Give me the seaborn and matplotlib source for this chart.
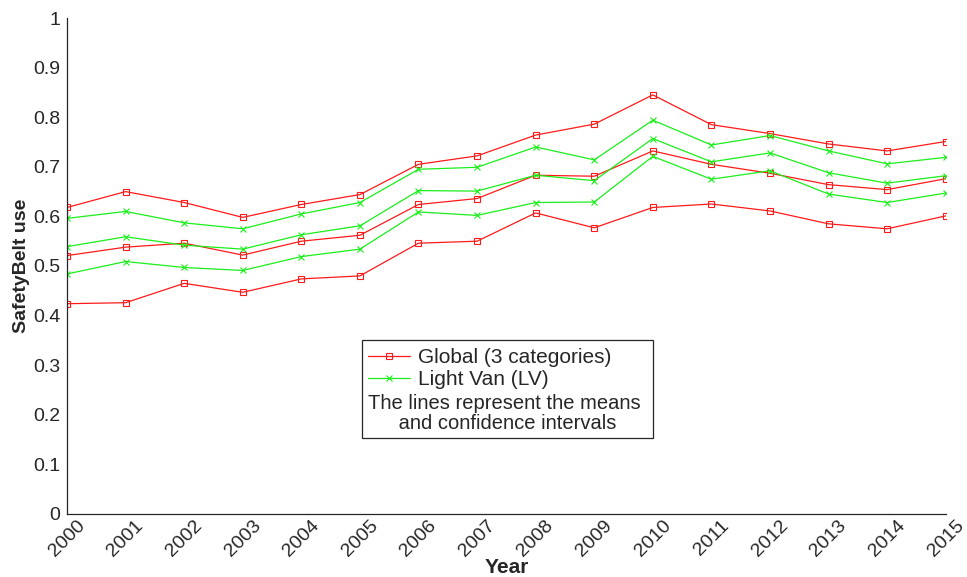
import numpy as np
import pandas as pd
import matplotlib
matplotlib.use("Agg")
import matplotlib.pyplot as plt
from matplotlib.lines import Line2D
from matplotlib.patches import Rectangle
import seaborn as sns

years = list(range(2000, 2016))

# Global (3 categories): mean and confidence interval
global_upper = [0.618, 0.650, 0.628, 0.598, 0.624, 0.644, 0.705, 0.722, 0.764, 0.786,
                0.845, 0.785, 0.767, 0.746, 0.732, 0.751]
global_mean = [0.521, 0.538, 0.546, 0.522, 0.550, 0.562, 0.624, 0.636, 0.683, 0.681,
               0.732, 0.705, 0.687, 0.664, 0.654, 0.676]
global_lower = [0.424, 0.426, 0.465, 0.447, 0.474, 0.480, 0.546, 0.550, 0.607, 0.577,
                0.618, 0.625, 0.611, 0.585, 0.575, 0.601]

# Light Van (LV): mean and confidence interval
lv_upper = [0.596, 0.610, 0.587, 0.575, 0.605, 0.628, 0.695, 0.699, 0.740, 0.714,
            0.794, 0.744, 0.763, 0.732, 0.706, 0.719]
lv_mean = [0.539, 0.559, 0.542, 0.534, 0.563, 0.581, 0.652, 0.651, 0.683, 0.672,
           0.757, 0.710, 0.728, 0.688, 0.667, 0.682]
lv_lower = [0.484, 0.509, 0.497, 0.491, 0.519, 0.534, 0.609, 0.602, 0.628, 0.629,
            0.721, 0.675, 0.692, 0.645, 0.628, 0.647]

sns.set_style("white")
plt.rcParams['font.family'] = ['Liberation Sans', 'DejaVu Sans']

red = '#ff1a1a'
green = '#1aef1a'

fig = plt.figure(figsize=(9.67, 5.77), dpi=100)
ax = fig.add_axes([0.0693, 0.1092, 0.9087, 0.8596])

for serie in [global_upper, global_mean, global_lower]:
    sns.lineplot(x=years, y=serie, ax=ax, color=red, lw=0.9, marker='s',
                 markersize=4.5, markerfacecolor='none', markeredgecolor=red,
                 markeredgewidth=0.8)
for serie in [lv_upper, lv_mean, lv_lower]:
    sns.lineplot(x=years, y=serie, ax=ax, color=green, lw=0.9, marker='x',
                 markersize=4.5, markeredgecolor=green, markeredgewidth=0.8)

ax.set_xlim(2000, 2015)
ax.set_ylim(0, 1)
ax.set_xticks(years)
ax.set_xticklabels([str(y) for y in years], rotation=45, ha='center', va='top')
ax.set_yticks(np.arange(0, 1.01, 0.1))
ax.set_yticklabels(['0', '0.1', '0.2', '0.3', '0.4', '0.5', '0.6', '0.7', '0.8', '0.9', '1'])
ax.tick_params(axis='both', direction='in', length=5, width=0.8, colors='#262626',
               labelsize=14, labelcolor='#262626')
ax.tick_params(axis='y', pad=5)
ax.tick_params(axis='x', pad=2)
ax.set_xlabel('Year', fontsize=15, fontweight='bold', labelpad=-1)
ax.set_ylabel('SafetyBelt use', fontsize=14, fontweight='bold', labelpad=2)

for s in ['top', 'right']:
    ax.spines[s].set_visible(False)
for s in ['left', 'bottom']:
    ax.spines[s].set_color('#262626')
    ax.spines[s].set_linewidth(0.9)

# legend box with explanatory text
box_x0, box_x1 = 0.3356, 0.6667
box_y0, box_y1 = 0.1532, 0.3508
ax.add_patch(Rectangle((box_x0, box_y0), box_x1 - box_x0, box_y1 - box_y0,
                       transform=ax.transAxes, facecolor='white',
                       edgecolor='#262626', lw=0.9, zorder=5))
handles = [
    Line2D([], [], color=red, lw=0.9, marker='s', markersize=4.5,
           markerfacecolor='none', markeredgewidth=0.8),
    Line2D([], [], color=green, lw=0.9, marker='x', markersize=4.5,
           markeredgewidth=0.8),
]
leg = ax.legend(handles, ['Global (3 categories)', 'Light Van (LV)'],
                loc='upper left', bbox_to_anchor=(box_x0, box_y1 - 0.004),
                frameon=False, fontsize=15, handlelength=2.0, handletextpad=0.4,
                borderaxespad=0, borderpad=0.3, labelspacing=0.15)
leg.set_zorder(6)
for t in leg.get_texts():
    t.set_color('#262626')
ax.text(0.498, 0.203, 'The lines represent the means\n and confidence intervals',
        transform=ax.transAxes, ha='center', va='center', multialignment='center',
        fontsize=14.5, color='#262626', zorder=7, linespacing=1.05)

fig.savefig('out.png', dpi=100)
